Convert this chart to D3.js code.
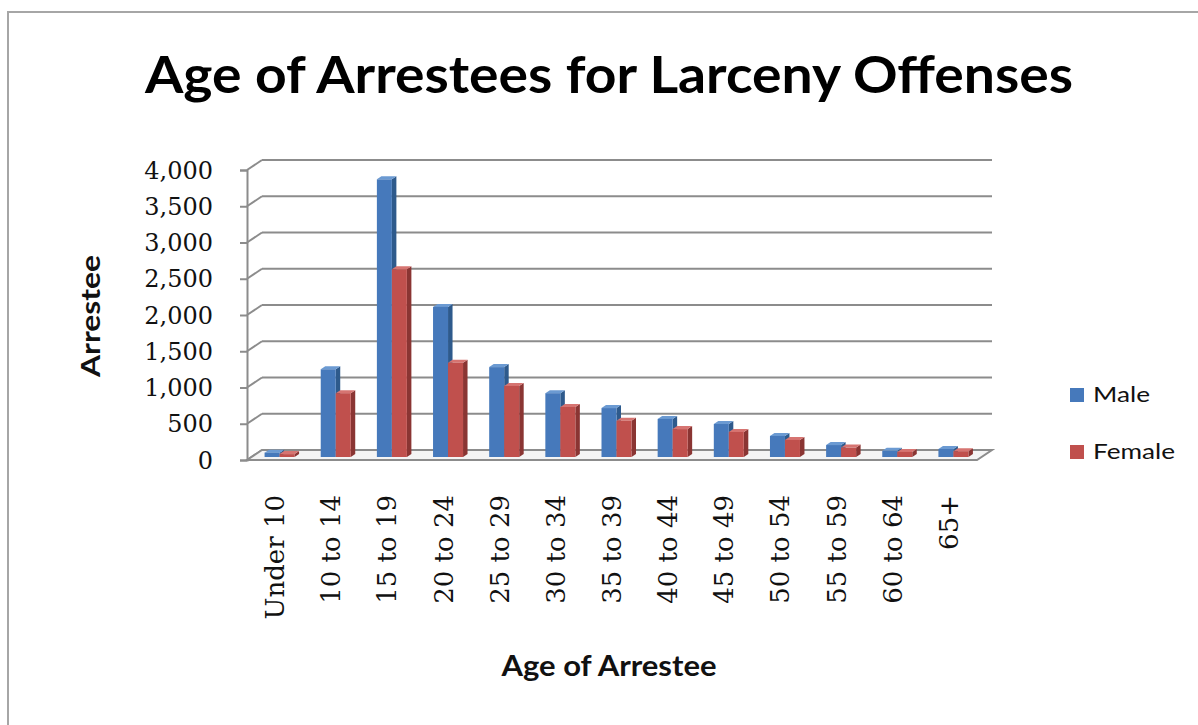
<!DOCTYPE html>
<html>
<head>
<meta charset="utf-8">
<script src="https://cdn.jsdelivr.net/npm/d3@7"></script>
<style>
  body { margin: 0; background: #fff; }
  svg { display: block; }
</style>
</head>
<body>
<div id="chart"></div>
<script>
// data
var categories = ["Under 10", "10 to 14", "15 to 19", "20 to 24", "25 to 29", "30 to 34",
    "35 to 39", "40 to 44", "45 to 49", "50 to 54", "55 to 59", "60 to 64", "65+"];
var maleValues = [60, 1210, 3830, 2070, 1240, 880, 675, 525, 455, 290, 165, 85, 110];
var femaleValues = [40, 880, 2590, 1300, 980, 690, 500, 385, 345, 235, 130, 70, 80];
var seriesNames = ["Male", "Female"];
var yTicks = [0, 500, 1000, 1500, 2000, 2500, 3000, 3500, 4000];

var width = 1198, height = 725;

var colors = {
    Male: { front: "#4679bb", side: "#2e5a8c", top: "#6b9ad2" },
    Female: { front: "#c0504d", side: "#8a3533", top: "#d67471" }
};

var svg = d3.select("#chart").append("svg")
    .attr("width", width)
    .attr("height", height);

// chart border (right / bottom run off the picture)
svg.append("rect")
    .attr("x", 8).attr("y", 12)
    .attr("width", 1220).attr("height", 740)
    .attr("fill", "#fff")
    .attr("stroke", "#a6a6a6")
    .attr("stroke-width", 2);

// scales, front plane of the 3d box
var y = d3.scaleLinear().domain([0, 4000]).range([460, 170]);
var x = d3.scaleBand().domain(categories).range([247, 977]);

var depthX = 15, depthY = -10;      // front -> back wall offset
var barF = 0.3, barD = 0.3;         // bar position / thickness in depth
var barW = 15;
var gridColor = "#8c8c8c";

// back wall gridlines
svg.append("g").selectAll("line")
    .data(yTicks)
    .enter().append("line")
    .attr("x1", 247 + depthX).attr("x2", 977 + depthX)
    .attr("y1", function (d) { return y(d) + depthY; })
    .attr("y2", function (d) { return y(d) + depthY; })
    .attr("stroke", gridColor)
    .attr("stroke-width", 2);

// side wall lines going back from the axis
svg.append("g").selectAll("line")
    .data(yTicks)
    .enter().append("line")
    .attr("x1", 247).attr("x2", 247 + depthX)
    .attr("y1", function (d) { return y(d); })
    .attr("y2", function (d) { return y(d) + depthY; })
    .attr("stroke", gridColor)
    .attr("stroke-width", 2);

// floor
svg.append("polygon")
    .attr("points", [[247, y(0)], [977, y(0)], [977 + depthX, y(0) + depthY], [247 + depthX, y(0) + depthY]].join(" "))
    .attr("fill", "#f4f4f4")
    .attr("stroke", gridColor)
    .attr("stroke-width", 2);

// vertical axis
var yAxis = d3.axisLeft(y).tickValues(yTicks).tickSize(7).tickFormat("");
svg.append("g")
    .attr("transform", "translate(247,0)")
    .call(yAxis)
    .call(function (g) {
        g.selectAll("line, path").attr("stroke", gridColor).attr("stroke-width", 2);
    });

svg.append("g").selectAll("text")
    .data(yTicks)
    .enter().append("text")
    .attr("x", 213)
    .attr("y", function (d) { return y(d) + 2; })
    .attr("text-anchor", "end")
    .attr("dominant-baseline", "middle")
    .style("font-family", "DejaVu Serif")
    .style("font-size", "24px")
    .style("fill", "#111")
    .text(d3.format(","));

// bars
var barData = [];
categories.forEach(function (c, i) {
    barData.push({ cat: c, series: "Male", value: maleValues[i], k: 0 });
    barData.push({ cat: c, series: "Female", value: femaleValues[i], k: 1 });
});

var bx = depthX * barF, by = depthY * barF;
var sx = depthX * barD, sy = depthY * barD;

var bars = svg.append("g").selectAll("g")
    .data(barData)
    .enter().append("g");

function barGeom(d) {
    var x0 = x(d.cat) + x.bandwidth() / 2 - barW + d.k * barW + bx;
    var y0 = y(0) + by, y1 = y(d.value) + by;
    return { x0: x0, x1: x0 + barW, y0: y0, y1: y1 };
}

bars.append("polygon")   // side
    .attr("points", function (d) {
        var g = barGeom(d);
        return [[g.x1, g.y0], [g.x1 + sx, g.y0 + sy], [g.x1 + sx, g.y1 + sy], [g.x1, g.y1]].join(" ");
    })
    .attr("fill", function (d) { return colors[d.series].side; });

bars.append("polygon")   // top
    .attr("points", function (d) {
        var g = barGeom(d);
        return [[g.x0, g.y1], [g.x1, g.y1], [g.x1 + sx, g.y1 + sy], [g.x0 + sx, g.y1 + sy]].join(" ");
    })
    .attr("fill", function (d) { return colors[d.series].top; });

bars.append("rect")      // front
    .attr("x", function (d) { return barGeom(d).x0; })
    .attr("y", function (d) { return barGeom(d).y1; })
    .attr("width", barW)
    .attr("height", function (d) { var g = barGeom(d); return g.y0 - g.y1; })
    .attr("fill", function (d) { return colors[d.series].front; });

// category labels
svg.append("g").selectAll("text")
    .data(categories)
    .enter().append("text")
    .attr("transform", function (d) {
        return "translate(" + (x(d) + x.bandwidth() / 2 + 9) + ",495) rotate(-90)";
    })
    .attr("text-anchor", "end")
    .style("font-family", "DejaVu Serif")
    .style("font-size", "26px")
    .style("fill", "#111")
    .text(function (d) { return d; });

// titles
svg.append("text")
    .attr("x", 609).attr("y", 93)
    .attr("text-anchor", "middle")
    .attr("textLength", 928)
    .attr("lengthAdjust", "spacingAndGlyphs")
    .style("font-family", "Lato")
    .style("font-weight", "bold")
    .style("font-size", "52px")
    .style("fill", "#000")
    .text("Age of Arrestees for Larceny Offenses");

svg.append("text")
    .attr("x", 609).attr("y", 676)
    .attr("text-anchor", "middle")
    .attr("textLength", 215)
    .attr("lengthAdjust", "spacingAndGlyphs")
    .style("font-family", "Lato")
    .style("font-weight", "bold")
    .style("font-size", "28px")
    .style("fill", "#111")
    .text("Age of Arrestee");

svg.append("text")
    .attr("transform", "translate(100,316) rotate(-90)")
    .attr("text-anchor", "middle")
    .attr("textLength", 122)
    .attr("lengthAdjust", "spacingAndGlyphs")
    .style("font-family", "Lato")
    .style("font-weight", "bold")
    .style("font-size", "27px")
    .style("fill", "#111")
    .text("Arrestee");

// legend
var legend = svg.append("g").selectAll("g")
    .data(seriesNames)
    .enter().append("g")
    .attr("transform", function (d, i) { return "translate(1070," + (388 + i * 57) + ")"; });

legend.append("rect")
    .attr("width", 14).attr("height", 14)
    .attr("fill", function (d) { return colors[d].front; });

legend.append("text")
    .attr("x", 23).attr("y", 14)
    .attr("textLength", function (d) { return d === "Male" ? 57 : 82; })
    .attr("lengthAdjust", "spacingAndGlyphs")
    .style("font-family", "Lato")
    .style("font-size", "22px")
    .style("fill", "#111")
    .text(function (d) { return d; });
</script>
</body>
</html>
